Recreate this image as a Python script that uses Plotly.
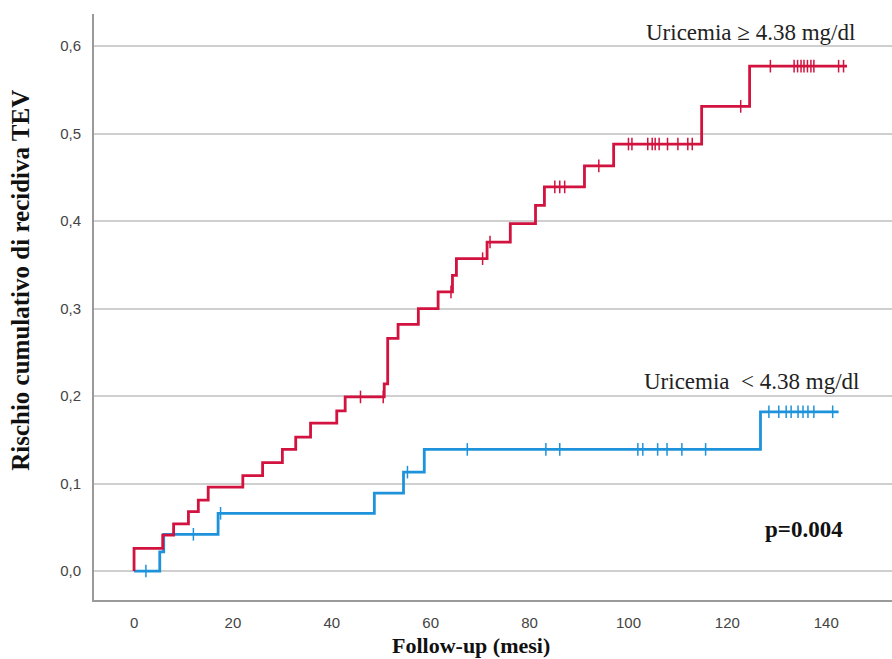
import plotly.graph_objects as go
import numpy as np

# ---- data ----
# High uricemia group (>= 4.38 mg/dl): step times (months) and cumulative risk
red_t = [0, 0, 5.8, 8, 11, 13, 15, 22, 26, 30, 32.7, 35.7, 41, 42.7, 50.6, 51.3,
         53.4, 57.5, 61.5, 64.4, 65.2, 71.4, 76.1, 81.2, 83, 91.1, 97, 114.8, 124.5, 144.2]
red_y = [0, 0.026, 0.041, 0.054, 0.068, 0.081, 0.096, 0.109, 0.124, 0.139, 0.153, 0.169,
         0.183, 0.199, 0.214, 0.266, 0.282, 0.300, 0.319, 0.338, 0.357, 0.376, 0.397,
         0.418, 0.439, 0.463, 0.488, 0.531, 0.577, 0.577]
red_censor = [45.8, 50.4, 64.1, 70.5, 72.0, 85.1, 86.1, 87.1, 94.0, 100.0, 100.7, 103.9,
              104.8, 105.4, 106.2, 107.9, 110.0, 112.0, 112.9, 122.7, 128.7, 133.5, 134.2,
              134.9, 135.5, 136.2, 136.9, 137.5, 142.5, 143.5]

# Low uricemia group (< 4.38 mg/dl)
blue_t = [0, 5.2, 6, 17, 48.6, 54.5, 58.7, 126.7, 142.5]
blue_y = [0, 0.022, 0.042, 0.066, 0.089, 0.113, 0.139, 0.182, 0.182]
blue_censor = [2.4, 12.0, 17.5, 55.3, 67.4, 83.3, 86.1, 101.9, 102.9, 105.9, 107.8, 110.8,
               115.6, 128.4, 130.4, 131.9, 132.9, 134.3, 135.3, 136.3, 137.5, 141.3]

x_ticks = [0, 20, 40, 60, 80, 100, 120, 140]
y_ticks = [0.0, 0.1, 0.2, 0.3, 0.4, 0.5, 0.6]
y_tick_labels = ["0,0", "0,1", "0,2", "0,3", "0,4", "0,5", "0,6"]

label_high = "Uricemia \u2265 4.38 mg/dl"
label_low = "Uricemia  < 4.38 mg/dl"
p_text = "p=0.004"

RED = "#D2123F"
BLUE = "#1E93DB"


def step_value(times, values, t):
    idx = np.searchsorted(np.array(times), t, side="right") - 1
    return values[max(idx, 0)]


fig = go.Figure()
for t, y, cens, col in [(blue_t, blue_y, blue_censor, BLUE), (red_t, red_y, red_censor, RED)]:
    fig.add_trace(go.Scatter(x=t, y=y, mode="lines", line=dict(color=col, width=2.8, shape="hv"),
                             showlegend=False, hoverinfo="skip"))
    fig.add_trace(go.Scatter(x=cens, y=[step_value(t, y, c) for c in cens], mode="markers",
                             marker=dict(symbol="line-ns", size=9, line=dict(color=col, width=1.5)),
                             showlegend=False, hoverinfo="skip"))

serif = "Liberation Serif, Times New Roman, serif"
fig.add_annotation(x=124.6, y=0.616, text=label_high, showarrow=False, xanchor="center", yanchor="middle",
                   font=dict(family=serif, size=23, color="#222"))
fig.add_annotation(x=124.8, y=0.217, text=label_low, showarrow=False, xanchor="center", yanchor="middle",
                   font=dict(family=serif, size=23, color="#222"))
fig.add_annotation(x=135.6, y=0.047, text="<b>%s</b>" % p_text, showarrow=False, xanchor="center",
                   yanchor="middle", font=dict(family=serif, size=23, color="#111"))
fig.add_annotation(xref="paper", yref="paper", x=-0.093, y=0.546, textangle=-90,
                   text="<b>Rischio cumulativo di recidiva TEV</b>", showarrow=False,
                   xanchor="center", yanchor="middle", font=dict(family=serif, size=25, color="#111"))
fig.add_annotation(xref="paper", yref="paper", x=0.473, y=-0.077,
                   text="<b>Follow-up (mesi)</b>", showarrow=False,
                   xanchor="center", yanchor="middle", font=dict(family=serif, size=22, color="#111"))

sans = "Liberation Sans, Arial, sans-serif"
fig.update_layout(
    width=892, height=659,
    margin=dict(l=94, r=0, t=14, b=59),
    paper_bgcolor="white", plot_bgcolor="white",
    xaxis=dict(range=[-8.1, 153.3], tickvals=x_ticks, showgrid=False, zeroline=False,
               showline=True, linecolor="#9a9a9a", linewidth=2, ticks="", ticklabelstandoff=8,
               tickfont=dict(family=sans, size=15, color="#444")),
    yaxis=dict(range=[-0.0331, 0.6366], tickvals=y_ticks, ticktext=y_tick_labels, showgrid=True,
               gridcolor="#cfcfcf", gridwidth=1.5, zeroline=False, showline=True,
               linecolor="#9a9a9a", linewidth=2, ticks="", ticklabelstandoff=8,
               tickfont=dict(family=sans, size=15, color="#444")),
)

fig.write_html("out.html", config={"displayModeBar": False},
               post_script="document.body.style.margin='0';document.body.style.overflow='hidden';")
